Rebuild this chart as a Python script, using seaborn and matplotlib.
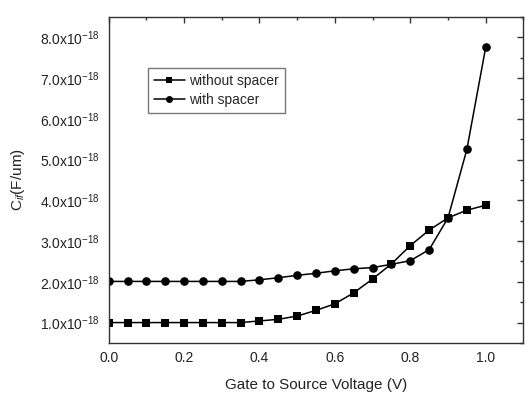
import matplotlib
matplotlib.use("Agg")
import matplotlib.pyplot as plt
import seaborn as sns
import pandas as pd
import numpy as np
from matplotlib.ticker import MultipleLocator, FuncFormatter, NullFormatter

vgs = [0.0, 0.05, 0.1, 0.15, 0.2, 0.25, 0.3, 0.35, 0.4, 0.45, 0.5, 0.55, 0.6,
       0.65, 0.7, 0.75, 0.8, 0.85, 0.9, 0.95, 1.0]
without_spacer = [1.0, 1.0, 1.0, 1.0, 1.0, 1.0, 1.0, 1.0, 1.04, 1.08, 1.16, 1.30,
                  1.46, 1.73, 2.07, 2.44, 2.89, 3.27, 3.57, 3.76, 3.88]
with_spacer = [2.01, 2.01, 2.01, 2.01, 2.01, 2.01, 2.01, 2.01, 2.05, 2.10, 2.16,
               2.21, 2.27, 2.32, 2.35, 2.43, 2.52, 2.79, 3.57, 5.25, 7.76]
series_names = ["without spacer", "with spacer"]

df = pd.concat([
    pd.DataFrame({"V": vgs, "C": without_spacer, "s": series_names[0]}),
    pd.DataFrame({"V": vgs, "C": with_spacer, "s": series_names[1]}),
])

sns.set_theme(style="white")
plt.rcParams['font.family'] = ['Liberation Sans', 'DejaVu Sans']
plt.rcParams['mathtext.fontset'] = 'custom'
plt.rcParams['mathtext.rm'] = 'Liberation Sans'
plt.rcParams['mathtext.it'] = 'Liberation Sans:italic'

fig = plt.figure(figsize=(5.25, 3.96), dpi=100)
ax = fig.add_axes([0.207, 0.134, 0.79, 0.823])

sns.lineplot(data=df, x="V", y="C", hue="s", style="s",
             markers={"without spacer": "s", "with spacer": "o"},
             dashes=False, palette={"without spacer": "black", "with spacer": "black"},
             markersize=6, linewidth=1.1, markeredgewidth=0, ax=ax, legend=True)

for ln in ax.lines:
    ln.set_markeredgewidth(0)
    if ln.get_marker() == "s":
        ln.set_markersize(5.6)
    elif ln.get_marker() == "o":
        ln.set_markersize(6.2)

ax.set_xlim(0, 1.1)
ax.set_ylim(0.5, 8.5)
ax.xaxis.set_major_locator(MultipleLocator(0.2))
ax.xaxis.set_minor_locator(MultipleLocator(0.1))
ax.yaxis.set_major_locator(MultipleLocator(1.0))
ax.yaxis.set_minor_locator(MultipleLocator(0.5))
ax.xaxis.set_major_formatter(FuncFormatter(lambda v, p: f"{v:.1f}"))
ax.yaxis.set_major_formatter(FuncFormatter(lambda v, p: f"{v:.1f}x10$^{{-18}}$"))

ax.tick_params(which="both", direction="out", color="#333333", width=1.0,
               labelsize=10, labelcolor="#222222", pad=2)
ax.tick_params(which="major", length=4)
ax.tick_params(which="minor", length=2.5)
for side in ["top", "right", "bottom", "left"]:
    ax.spines[side].set_color("#333333")
    ax.spines[side].set_linewidth(1.0)

top = ax.secondary_xaxis("top")
top.xaxis.set_major_locator(MultipleLocator(0.2))
top.xaxis.set_minor_locator(MultipleLocator(0.1))
top.xaxis.set_major_formatter(NullFormatter())
top.tick_params(which="both", direction="in", color="#333333", width=1.0)
top.tick_params(which="major", length=4)
top.tick_params(which="minor", length=2.5)
top.spines["top"].set_visible(False)

right = ax.secondary_yaxis("right")
right.yaxis.set_major_locator(MultipleLocator(1.0))
right.yaxis.set_minor_locator(MultipleLocator(0.5))
right.yaxis.set_major_formatter(NullFormatter())
right.tick_params(which="both", direction="in", color="#333333", width=1.0)
right.tick_params(which="major", length=4)
right.tick_params(which="minor", length=2.5)
right.spines["right"].set_visible(False)

ax.set_xlabel("Gate to Source Voltage (V)", fontsize=11, color="#222222", labelpad=9)
ax.set_ylabel("C$_{if}$(F/um)", fontsize=11, color="#222222", labelpad=10)

leg = ax.legend(loc="upper left", bbox_to_anchor=(0.078, 0.866), frameon=True,
                fancybox=False, edgecolor="#555555", fontsize=10,
                handlelength=2.2, handletextpad=0.3, borderpad=0.45,
                labelspacing=0.35, title=None)
leg.get_frame().set_linewidth(1.0)
for h in leg.legend_handles:
    h.set_markersize(5)
    h.set_markeredgewidth(0)

fig.savefig("out.png", dpi=100)
